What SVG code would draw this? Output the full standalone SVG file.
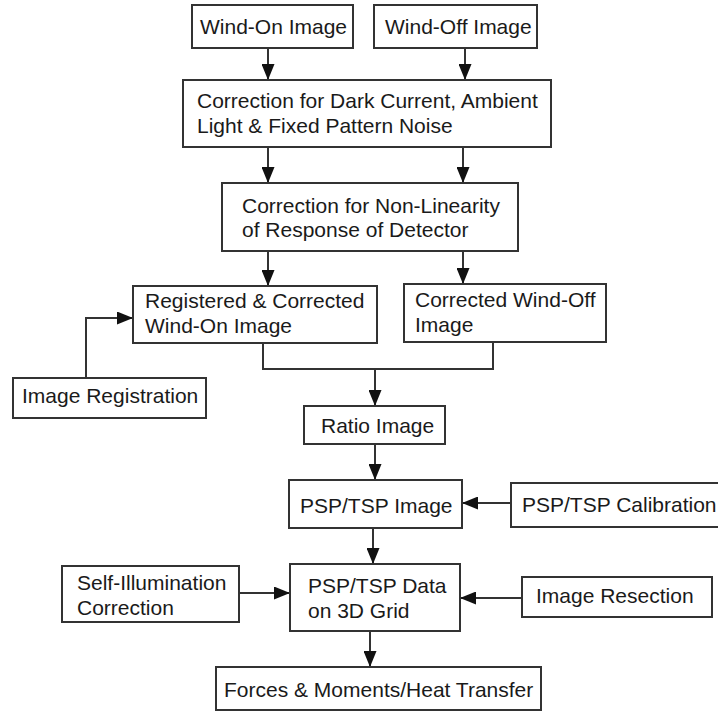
<svg xmlns="http://www.w3.org/2000/svg" width="718" height="713" viewBox="0 0 718 713">
<defs>
<marker id="ah" markerWidth="16" markerHeight="13" refX="16" refY="6.5" orient="auto" markerUnits="userSpaceOnUse">
<path d="M0,0 L16,6.5 L0,13 Z" fill="#111"/>
</marker>
<style>
rect{fill:#fff;stroke:#333;stroke-width:2}
text{font-family:"Liberation Sans",Arial,sans-serif;font-size:21px;fill:#1a1a1a}
.c line,.c path{stroke:#333;stroke-width:2;fill:none}
.a{marker-end:url(#ah)}
</style>
</defs>
<rect x="0" y="0" width="718" height="713" style="stroke:none"/>
<g class="c">
<line class="a" x1="268" y1="48" x2="268" y2="80"/>
<line class="a" x1="465" y1="48" x2="465" y2="80"/>
<line class="a" x1="268" y1="147" x2="268" y2="183"/>
<line class="a" x1="463" y1="147" x2="463" y2="183"/>
<line class="a" x1="268" y1="251" x2="268" y2="286"/>
<line class="a" x1="463" y1="251" x2="463" y2="284"/>
<path class="a" d="M86,378 V318 H133"/>
<path d="M263,343 V369 H493 V342"/>
<line class="a" x1="375" y1="369" x2="375" y2="406"/>
<line class="a" x1="375" y1="444" x2="375" y2="480"/>
<line class="a" x1="511" y1="503" x2="462" y2="503"/>
<line class="a" x1="373" y1="528" x2="373" y2="564"/>
<line class="a" x1="239" y1="593" x2="290" y2="593"/>
<line class="a" x1="522" y1="598" x2="460" y2="598"/>
<line class="a" x1="370" y1="631" x2="370" y2="667"/>
</g>
<g id="wind-on"><rect x="192" y="5" width="161" height="43"/><text x="200" y="34">Wind-On Image</text></g>
<g id="wind-off"><rect x="374" y="5" width="163" height="43"/><text x="385" y="34">Wind-Off Image</text></g>
<g id="corr1"><rect x="183" y="80" width="368" height="67"/><text x="197" y="108">Correction for Dark Current, Ambient</text><text x="197" y="133">Light &amp; Fixed Pattern Noise</text></g>
<g id="corr2"><rect x="222" y="183" width="296" height="68"/><text x="242" y="213">Correction for Non-Linearity</text><text x="242" y="237">of Response of Detector</text></g>
<g id="registered"><rect x="133" y="286" width="244" height="57"/><text x="145" y="308">Registered &amp; Corrected</text><text x="145" y="333">Wind-On Image</text></g>
<g id="corrected-off"><rect x="404" y="284" width="202" height="58"/><text x="415" y="307">Corrected Wind-Off</text><text x="415" y="332">Image</text></g>
<g id="registration"><rect x="13" y="378" width="193" height="40"/><text x="22" y="403">Image Registration</text></g>
<g id="ratio"><rect x="304" y="406" width="141" height="38"/><text x="321" y="433">Ratio Image</text></g>
<g id="psp-image"><rect x="289" y="480" width="173" height="48"/><text x="300" y="513">PSP/TSP Image</text></g>
<g id="calibration"><rect x="511" y="483" width="215" height="44"/><text x="522" y="512">PSP/TSP Calibration</text></g>
<g id="self-illum"><rect x="62" y="566" width="177" height="56"/><text x="77" y="590">Self-Illumination</text><text x="77" y="615">Correction</text></g>
<g id="psp-data"><rect x="290" y="564" width="170" height="67"/><text x="308" y="593">PSP/TSP Data</text><text x="308" y="618">on 3D Grid</text></g>
<g id="resection"><rect x="522" y="577" width="190" height="40"/><text x="536" y="603">Image Resection</text></g>
<g id="forces"><rect x="216" y="667" width="325" height="43"/><text x="224" y="697">Forces &amp; Moments/Heat Transfer</text></g>
</svg>
